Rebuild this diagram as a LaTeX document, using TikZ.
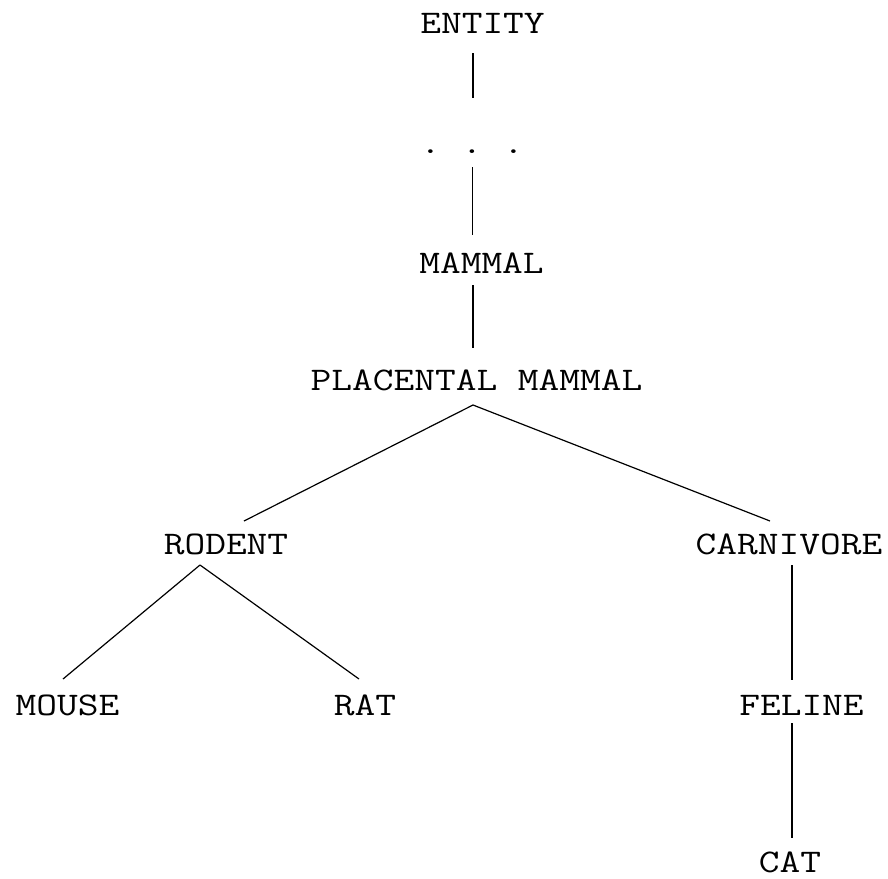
\documentclass[tikz,border=0pt]{standalone}
\usepackage{fontspec}
\setmonofont{Latin Modern Mono}[FakeStretch=1.22]
\usetikzlibrary{calc}
\tikzset{
  word/.style={font=\ttfamily\fontsize{33}{33}\selectfont, inner sep=0pt, anchor=base, text depth=0pt, text=black},
  edge/.style={line width=1.2pt, draw=black}
}
\begin{document}
\begin{tikzpicture}[x=1pt, y=-1pt]
  \useasboundingbox (0,0) rectangle (888,878);
  % taxonomy terms, placed at their baselines
  \node[word] (entity)    at (482.5,33)  {ENTITY};
  \node[word] (dots)      at (472,153)   {.\ .\ .};
  \node[word] (mammal)    at (481.5,273) {MAMMAL};
  \node[word] (placental) at (476.5,390) {PLACENTAL MAMMAL};
  \node[word] (rodent)    at (226,554)   {RODENT};
  \node[word] (carnivore) at (789,554)   {CARNIVORE};
  \node[word] (mouse)     at (67.5,715)  {MOUSE};
  \node[word] (rat)       at (365,715)   {RAT};
  \node[word] (feline)    at (801.5,715) {FELINE};
  \node[word] (cat)       at (790,872.5) {CAT};
  % hierarchy links
  \draw[edge] ($(entity.base)+(-9.5,20)$)    -- ($(dots.base)+(1,-55)$);
  \draw[edge] ($(dots.base)+(0.5,14)$)       -- ($(mammal.base)+(-9,-38)$);
  \draw[edge] ($(mammal.base)+(-8.5,12)$)    -- ($(placental.base)+(-3.5,-42)$);
  \draw[edge] ($(placental.base)+(-3.5,15)$) -- ($(rodent.base)+(18,-33)$);
  \draw[edge] ($(placental.base)+(-3.5,15)$) -- ($(carnivore.base)+(-19,-33)$);
  \draw[edge] ($(rodent.base)+(-26,11)$)     -- ($(mouse.base)+(-4.5,-36)$);
  \draw[edge] ($(rodent.base)+(-26,11)$)     -- ($(rat.base)+(-6,-36)$);
  \draw[edge] ($(carnivore.base)+(3,11)$)    -- ($(feline.base)+(-9.5,-35)$);
  \draw[edge] ($(feline.base)+(-9.5,8)$)     -- ($(cat.base)+(2,-34.5)$);
\end{tikzpicture}
\end{document}
